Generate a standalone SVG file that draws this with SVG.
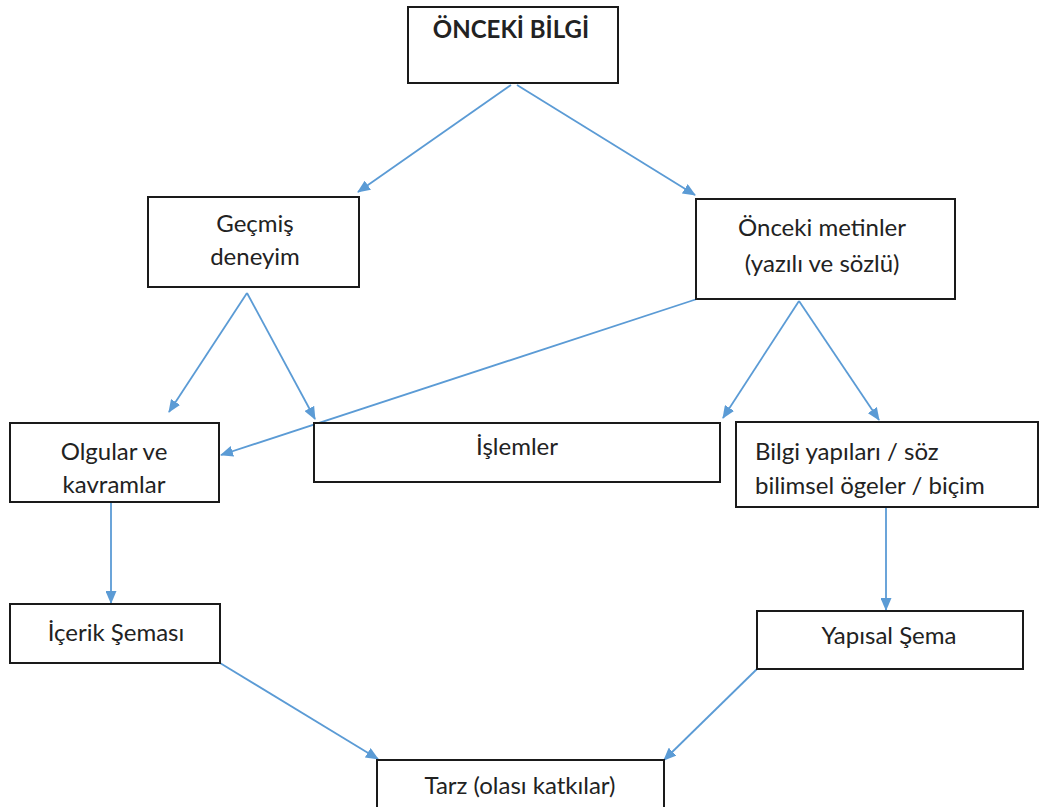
<svg xmlns="http://www.w3.org/2000/svg" width="1039" height="807" viewBox="0 0 1039 807">
<defs>
<style>
.box{fill:#fff;stroke:#1a1a1a;stroke-width:2}
.t{font-family:Lato,"Open Sans","Liberation Sans",sans-serif;font-size:24px;fill:#222;text-anchor:middle}
.b{font-weight:bold}
.l{text-anchor:start}
.c{stroke:#5B9BD5;stroke-width:1.8;fill:none;marker-end:url(#ah)}
</style>
<marker id="ah" viewBox="0 0 13 11" refX="12" refY="5.5" markerWidth="13" markerHeight="11" markerUnits="userSpaceOnUse" orient="auto">
<path d="M0,0 L13,5.5 L0,11 z" fill="#5B9BD5"/>
</marker>
</defs>
<rect width="1039" height="807" fill="#fff"/>
<g id="connectors">
<line class="c" x1="511" y1="85" x2="358" y2="192"/>
<line class="c" x1="517" y1="85" x2="695" y2="195"/>
<line class="c" x1="247" y1="293" x2="169" y2="412"/>
<line class="c" x1="247" y1="293" x2="315" y2="419"/>
<line class="c" x1="799" y1="301" x2="723" y2="418"/>
<line class="c" x1="799" y1="301" x2="879" y2="420"/>
<line class="c" x1="697" y1="299" x2="221" y2="455"/>
<line class="c" x1="111" y1="502" x2="111" y2="603"/>
<line class="c" x1="886" y1="507" x2="886" y2="610"/>
<line class="c" x1="220" y1="663" x2="378" y2="759"/>
<line class="c" x1="757" y1="669" x2="664" y2="760"/>
</g>
<g id="n-onceki-bilgi">
<rect class="box" x="408" y="7" width="210" height="76"/>
<text class="t b" x="511" y="38">ÖNCEKİ BİLGİ</text>
</g>
<g id="n-gecmis">
<rect class="box" x="148" y="197" width="211" height="90"/>
<text class="t" x="255" y="232">Geçmiş</text>
<text class="t" x="255" y="265">deneyim</text>
</g>
<g id="n-onceki-metinler">
<rect class="box" x="696" y="199" width="259" height="100"/>
<text class="t" x="822" y="236">Önceki metinler</text>
<text class="t" x="822" y="272">(yazılı ve sözlü)</text>
</g>
<g id="n-olgular">
<rect class="box" x="10" y="423" width="209" height="79"/>
<text class="t" x="114" y="460">Olgular ve</text>
<text class="t" x="114" y="493">kavramlar</text>
</g>
<g id="n-islemler">
<rect class="box" x="314" y="423" width="406" height="59"/>
<text class="t" x="517" y="455">İşlemler</text>
</g>
<g id="n-bilgi-yapilari">
<rect class="box" x="736" y="422" width="302" height="85"/>
<text class="t l" x="755" y="460">Bilgi yapıları / söz</text>
<text class="t l" x="755" y="494">bilimsel ögeler / biçim</text>
</g>
<g id="n-icerik">
<rect class="box" x="10" y="604" width="210" height="59"/>
<text class="t" x="116" y="641">İçerik Şeması</text>
</g>
<g id="n-yapisal">
<rect class="box" x="757" y="611" width="266" height="58"/>
<text class="t" x="889" y="644">Yapısal Şema</text>
</g>
<g id="n-tarz">
<rect class="box" x="377" y="760" width="287" height="60"/>
<text class="t" x="520" y="794">Tarz (olası katkılar)</text>
</g>
</svg>
